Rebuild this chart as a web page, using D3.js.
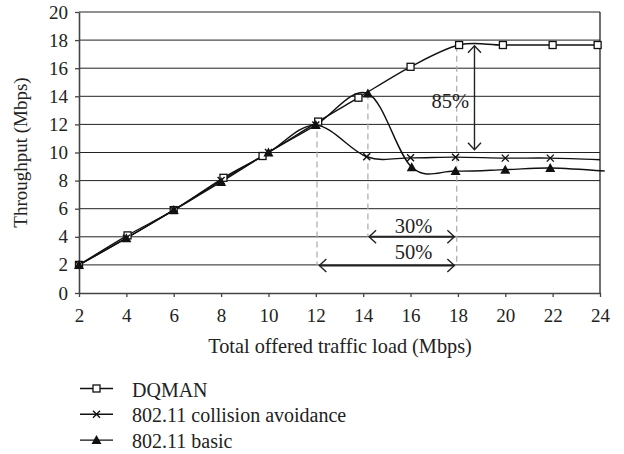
<!DOCTYPE html>
<html>
<head>
<meta charset="utf-8">
<script src="https://cdn.jsdelivr.net/npm/d3@7"></script>
<style>
  body { margin: 0; background: #fff; }
  svg text { font-family: "Liberation Serif", "DejaVu Serif", serif; fill: #222; }
</style>
</head>
<body>
<svg id="chart" width="624" height="454"></svg>
<script>
// Ticks
const xTicks = [2, 4, 6, 8, 10, 12, 14, 16, 18, 20, 22, 24];
const yTicks = [0, 2, 4, 6, 8, 10, 12, 14, 16, 18, 20];

// Series (x = offered load, y = throughput)
const dqmanX = [2, 4.05, 6, 8.1, 9.75, 12.1, 13.8, 16, 18.05, 19.9, 22, 23.9];
const dqmanY = [2, 4.1, 5.9, 8.2, 9.75, 12.2, 13.9, 16.1, 17.65, 17.65, 17.65, 17.65];

const collX = [2, 4, 6, 8, 10, 12, 14.15, 16, 17.9, 20, 21.9, 24];
const collY = [2, 3.9, 5.9, 8.0, 10.0, 11.95, 9.7, 9.62, 9.67, 9.6, 9.6, 9.48];

const basicX = [2, 4, 6, 8, 10, 12, 14.2, 16.05, 17.9, 20, 21.9, 24.2];
const basicY = [2, 3.9, 5.9, 7.9, 10.0, 11.95, 14.2, 8.95, 8.68, 8.78, 8.9, 8.68];

// Annotations
const guideX = [12.05, 14.2, 17.95];
const guideTop = [12.2, 14.2, 17.6];
const guideBottom = [1.95, 4.0, 1.95];

const arrowLabels = ["85%", "30%", "50%"];
const arrowFrom = [[18.7, 17.6], [14.25, 4.0], [12.15, 1.95]];
const arrowTo = [[18.7, 10.2], [17.85, 4.0], [17.85, 1.95]];
const labelPos = [[17.68, 13.2], [16.13, 4.3], [16.13, 2.45]];

const legendNames = ["DQMAN", "802.11 collision avoidance", "802.11 basic"];

const svg = d3.select("#chart");

const x = d3.scaleLinear().domain([2, 24]).range([79, 600]);
const y = d3.scaleLinear().domain([0, 20]).range([293, 12]);

// arrow heads
const defs = svg.append("defs");
defs.append("marker")
    .attr("id", "chev")
    .attr("viewBox", "-10 -8 12 16")
    .attr("markerWidth", 12).attr("markerHeight", 16)
    .attr("markerUnits", "userSpaceOnUse")
    .attr("refX", 0).attr("refY", 0)
    .attr("orient", "auto-start-reverse")
    .append("path")
    .attr("d", "M-7,-6.5L0,0L-7,6.5")
    .attr("fill", "none").attr("stroke", "#222").attr("stroke-width", 1.4);

// gridlines
svg.append("g").selectAll("line")
    .data(yTicks.filter(d => d > 0))
    .join("line")
    .attr("x1", x(2)).attr("x2", x(24))
    .attr("y1", d => y(d)).attr("y2", d => y(d))
    .attr("stroke", "#222").attr("stroke-width", 1);

// right border
svg.append("line")
    .attr("x1", x(24)).attr("x2", x(24))
    .attr("y1", y(20)).attr("y2", y(0))
    .attr("stroke", "#222").attr("stroke-width", 1.3);

// guide lines (dashed)
svg.append("g").selectAll("line")
    .data(guideX)
    .join("line")
    .attr("x1", d => x(d)).attr("x2", d => x(d))
    .attr("y1", (d, i) => y(guideTop[i])).attr("y2", (d, i) => y(guideBottom[i]))
    .attr("stroke", "#aaa").attr("stroke-width", 1.2)
    .attr("stroke-dasharray", "6,4");

// axes
const xAxis = svg.append("g")
    .attr("transform", `translate(0,${y(0)})`)
    .call(d3.axisBottom(x).tickValues(xTicks).tickSize(4).tickSizeOuter(0).tickPadding(12));
const yAxis = svg.append("g")
    .attr("transform", `translate(${x(2)},0)`)
    .call(d3.axisLeft(y).tickValues(yTicks).tickSize(4).tickSizeOuter(0).tickPadding(7));
[xAxis, yAxis].forEach(a => {
    a.select(".domain").attr("stroke", "#444").attr("stroke-width", 1.6);
    a.selectAll(".tick line").attr("stroke", "#444").attr("stroke-width", 1.3);
    a.selectAll("text").attr("font-size", 19).attr("fill", "#222")
        .attr("font-family", "Liberation Serif");
});

// axis titles
svg.append("text")
    .attr("x", 340).attr("y", 353)
    .attr("text-anchor", "middle").attr("font-size", 20.3)
    .text("Total offered traffic load (Mbps)");
svg.append("text")
    .attr("transform", `translate(27,${(y(0) + y(20)) / 2}) rotate(-90)`)
    .attr("text-anchor", "middle").attr("font-size", 19)
    .text("Throughput (Mbps)");

// lines
const line = d3.line()
    .x(d => x(d[0])).y(d => y(d[1]))
    .curve(d3.curveCardinal.tension(0));

const series = [
    { pts: d3.zip(dqmanX, dqmanY), marks: 12, sym: "square" },
    { pts: d3.zip(collX, collY), marks: 11, sym: "cross" },
    { pts: d3.zip(basicX, basicY), marks: 11, sym: "tri" }
];

function drawMarker(g, sym, cx, cy) {
    if (sym === "square") {
        g.append("rect").attr("x", cx - 3.5).attr("y", cy - 3.5)
            .attr("width", 7).attr("height", 7)
            .attr("fill", "#fff").attr("stroke", "#111").attr("stroke-width", 1.3);
    } else if (sym === "cross") {
        g.append("path")
            .attr("d", `M${cx - 3.5},${cy - 3.5}L${cx + 3.5},${cy + 3.5}M${cx - 3.5},${cy + 3.5}L${cx + 3.5},${cy - 3.5}`)
            .attr("stroke", "#111").attr("stroke-width", 1.4);
    } else {
        g.append("path")
            .attr("d", `M${cx},${cy - 5}L${cx + 5},${cy + 4}L${cx - 5},${cy + 4}Z`)
            .attr("fill", "#111");
    }
}

series.forEach(s => {
    svg.append("path")
        .datum(s.pts)
        .attr("d", line)
        .attr("fill", "none").attr("stroke", "#111").attr("stroke-width", 1.4);
});
series.forEach(s => {
    const g = svg.append("g");
    s.pts.slice(0, s.marks).forEach(p => drawMarker(g, s.sym, x(p[0]), y(p[1])));
});

// percentage arrows
arrowLabels.forEach((lab, i) => {
    svg.append("line")
        .attr("x1", x(arrowFrom[i][0])).attr("y1", y(arrowFrom[i][1]))
        .attr("x2", x(arrowTo[i][0])).attr("y2", y(arrowTo[i][1]))
        .attr("stroke", "#222").attr("stroke-width", i === 0 ? 1.4 : 2)
        .attr("marker-start", "url(#chev)").attr("marker-end", "url(#chev)");
    svg.append("text")
        .attr("x", x(labelPos[i][0])).attr("y", y(labelPos[i][1]))
        .attr("text-anchor", "middle").attr("font-size", 20.5)
        .attr("fill", "#444")
        .text(lab);
});

// legend
const legend = svg.append("g");
legendNames.forEach((name, i) => {
    const ly = 388.5 + i * 25.8;
    legend.append("line")
        .attr("x1", 80).attr("x2", 113).attr("y1", ly).attr("y2", ly)
        .attr("stroke", "#111").attr("stroke-width", 1.4);
    drawMarker(legend, series[i].sym, 96.5, ly);
    legend.append("text")
        .attr("x", 132).attr("y", ly + 8)
        .attr("font-size", 20)
        .text(name);
});
</script>
</body>
</html>
